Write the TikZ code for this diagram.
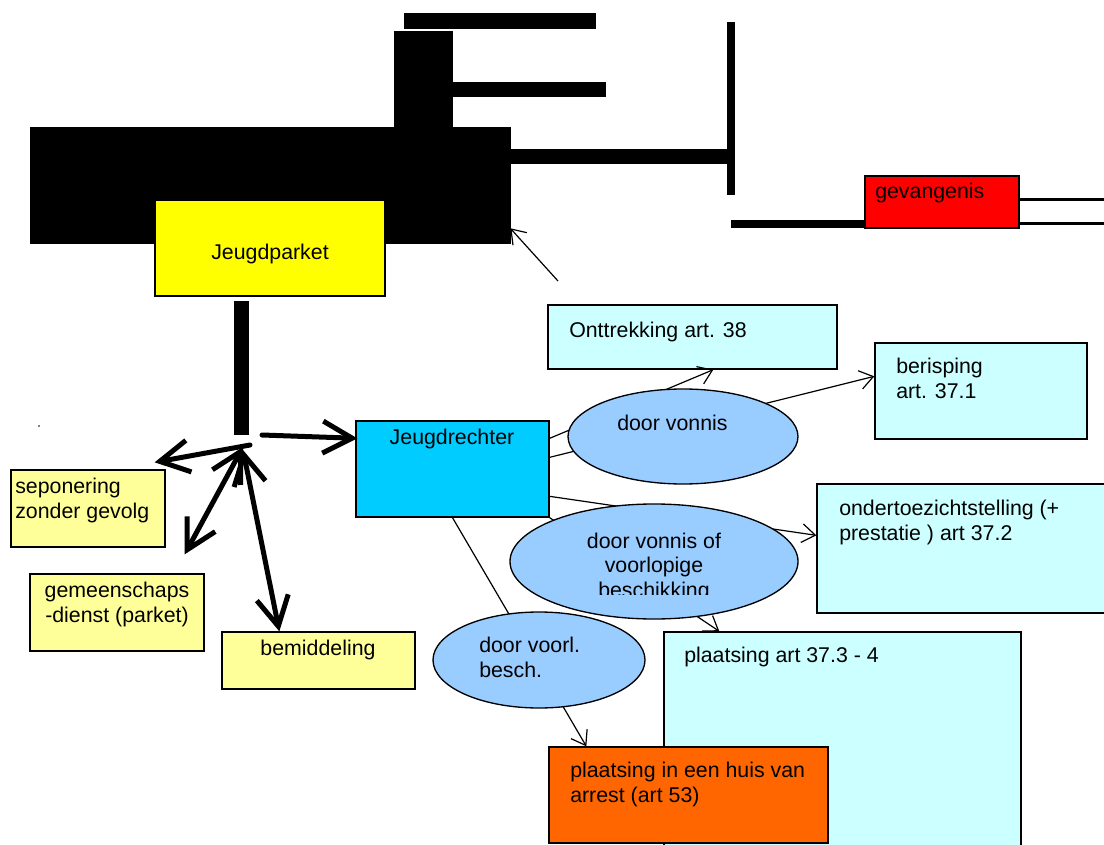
\documentclass[tikz,border=0pt]{standalone}
\usepackage{fontspec}
\setmainfont{Liberation Sans}
\usetikzlibrary{arrows.meta,shapes.geometric,fit,calc}

\definecolor{parketyellow}{RGB}{255,255,0}
\definecolor{paleyellow}{RGB}{255,255,153}
\definecolor{rechterblue}{RGB}{0,204,255}
\definecolor{palecyan}{RGB}{204,255,255}
\definecolor{vonnisblue}{RGB}{153,204,255}
\definecolor{arrestorange}{RGB}{255,102,0}

\tikzset{
  txt/.style={font=\fontsize{16}{18.5}\selectfont, inner sep=0pt, align=left},
  bx/.style={draw, line width=1pt, inner sep=0pt},
  ell/.style={ellipse, draw, line width=1pt, fill=vonnisblue, inner sep=0pt},
  fat/.style={line width=3.75pt, line cap=round, -{Straight Barb[length=22pt,width=24pt]}},
  fatboth/.style={line width=3.75pt, line cap=round, {Straight Barb[length=22pt,width=24pt]}-{Straight Barb[length=22pt,width=24pt]}},
  thin/.style={line width=0.9pt, -{Straight Barb[length=10pt,width=14pt]}},
}

\begin{document}
\begin{tikzpicture}[x=0.75pt,y=0.75pt,yscale=-1,xscale=1]
\clip (0,0) rectangle (1104,845);

%Black shapes
\node [fit={(30,127) (511,244)}, inner sep=0pt, fill=black] (blk) {};
\fill (394,31) rectangle (453,127);
\fill (404,13) rectangle (596,29);
\fill (453,82) rectangle (606,97);
\fill (511,149) rectangle (728,164);
\fill (727,22) rectangle (735,195);

%gevangenis
\node [bx, fill=red, fit={(865,176) (1019,228)}] (gev) {};
\node [txt, anchor=base west] (gevt) at (875,199) {gevangenis};
\coordinate (gevin) at (731,224);
\draw [line width=6pt] (gevin) -- (gevin -| gev.west);
\coordinate (edgea) at (1104,200);
\coordinate (edgeb) at (1104,224);
\draw [line width=2.25pt] (edgea -| gev.east) -- (edgea);
\draw [line width=2.25pt] (edgeb -| gev.east) -- (edgeb);

%Jeugdparket
\node [bx, line width=1.5pt, fill=parketyellow, fit={(155,200) (385,296)}] (jp) {};
\node [txt, anchor=base] (jpt) at (270,260) {Jeugdparket};
\coordinate (blkfrom) at (558,281);
\draw [thin] (blkfrom) -- ($(blk.south east)+(-1,-16)$);

%Parket side boxes
\node [bx, fill=paleyellow, fit={(11,470) (165,547)}] (sep) {};
\node [txt, anchor=base west] (sept) at (15,518) {seponering\\zonder gevolg};
\node [bx, fill=paleyellow, fit={(30,574) (204,651)}] (gem) {};
\node [txt, anchor=base, align=center] (gemt) at (117,622) {gemeenschaps\\-dienst (parket)};
\node [bx, fill=paleyellow, fit={(222,632) (415,689)}] (bem) {};
\node [txt, anchor=base] (bemt) at (318,655) {bemiddeling};

%Jeugdrechter
\node [bx, fill=rechterblue, fit={(356,421) (549,517)}] (jr) {};
\node [txt, anchor=base] (jrt) at (452,444) {Jeugdrechter};

%Thick arrows
\coordinate (bartop) at (241.5,301);
\coordinate (barend) at (241.5,435);
\draw [line width=11.25pt] (bartop) -- (barend);
\coordinate (hub) at (243,447);
\coordinate (jrfrom) at (262,435);
\draw [fat] (jrfrom) -- ($(jr.north west)+(2,18)$);
\draw [fat] ($(hub)+(7,-2)$) -- ($(sep.north east)+(-11,-7)$);
\draw [fatboth] (hub) -- ($(gem.north east)+(-20,-19)$);
\draw [fatboth] ($(hub)+(0,3)$) -- ($(bem.north west)+(58,0)$);
\fill (39,426) circle (0.8);

%Measures
\node [bx, fill=palecyan, fit={(548,305) (837,369)}] (ont) {};
\node [txt, anchor=base west] (ontt) at (569,337) {Onttrekking art. 38};
\node [bx, fill=palecyan, fit={(875,343) (1087,439)}] (ber) {};
\node [txt, anchor=base west] (bert) at (896,398) {berisping\\art. 37.1};
\node [bx, fill=palecyan, fit={(817,484) (1110,613)}] (ond) {};
\node [txt, anchor=base west] (ondt) at (839,540) {ondertoezichtstelling (+\\prestatie ) art 37.2};
\node [bx, fill=palecyan, fit={(664,632) (1021,860)}] (pl) {};
\node [txt, anchor=base west] (plt) at (684,662) {plaatsing art 37.3 - 4};
\node [bx, fill=arrestorange, fit={(549,747) (828,843)}] (arr) {};
\node [txt, anchor=base west] (arrt) at (570,802) {plaatsing in een huis van\\arrest (art 53)};

%Connectors
\draw [thin] ($(jr.north east)+(0,18)$) -- ($(ont.south west)+(166,0)$);
\draw [thin] ($(jr.north east)+(0,37)$) -- ($(ber.north west)+(0,34)$);
\draw [thin] ($(jr.north east)+(0,76)$) -- ($(ond.north west)+(0,52)$);
\draw [thin] (jr.south east) -- ($(pl.north west)+(56,0)$);
\draw [thin] (jr.south) -- ($(arr.north west)+(38,0)$);

%Ellipses
\node [ell, minimum width=172.5pt, minimum height=71.25pt] (dv) at (683,436.5) {};
\node [txt, anchor=base west] (dvt) at (617,430) {door vonnis};
\node [ell, minimum width=159pt, minimum height=72pt] (dvb) at (539,660) {};
\node [txt, anchor=base west] (dvbt) at (479,677) {door voorl.\\besch.};
\node [ell, minimum width=216pt, minimum height=86.25pt] (dvo) at (654,561.5) {};
\begin{scope}
\clip (500,500) rectangle (810,594);
\node [txt, anchor=base, align=center] (dvot) at (654,597.5) {door vonnis of\\voorlopige\\beschikking};
\end{scope}

\end{tikzpicture}
\end{document}
